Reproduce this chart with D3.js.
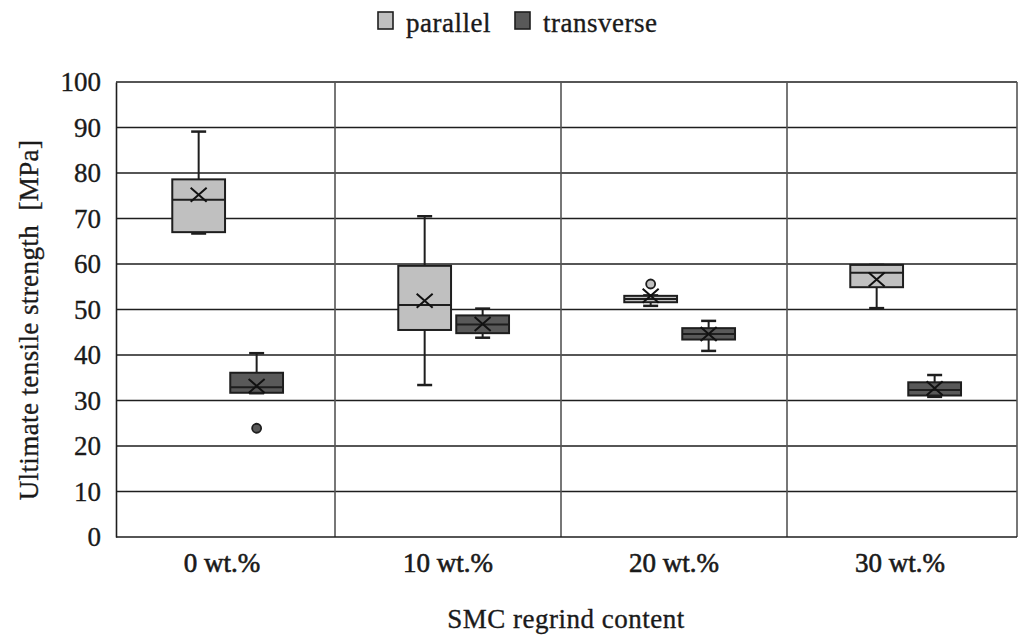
<!DOCTYPE html>
<html>
<head>
<meta charset="utf-8">
<script src="https://cdn.jsdelivr.net/npm/d3@7"></script>
<style>
  body { margin: 0; background: #fff; }
  text { font-family: "Liberation Serif", serif; fill: #1a1a1a; stroke: #1a1a1a; stroke-width: 0.35px; }
</style>
</head>
<body>
<div id="chart"></div>
<script>
// data
var categories = ["0 wt.%", "10 wt.%", "20 wt.%", "30 wt.%"];
var series = ["parallel", "transverse"];

var parLow    = [66.7, 33.4, 50.8, 50.3];
var parQ1     = [67.0, 45.5, 51.6, 54.9];
var parMedian = [74.1, 51.0, 52.3, 58.1];
var parQ3     = [78.6, 59.6, 53.0, 59.8];
var parHigh   = [89.1, 70.5, 53.1, 59.8];
var parMean   = [75.2, 51.9, 53.0, 56.6];
var parOut    = [[], [], [55.6], []];

var traLow    = [31.6, 43.8, 40.9, 30.8];
var traQ1     = [31.7, 44.8, 43.4, 31.1];
var traMedian = [32.9, 46.7, 44.6, 32.3];
var traQ3     = [36.1, 48.7, 45.9, 34.0];
var traHigh   = [40.4, 50.2, 47.5, 35.6];
var traMean   = [33.2, 46.8, 44.6, 32.7];
var traOut    = [[23.9], [], [], []];

var yTicks = [0, 10, 20, 30, 40, 50, 60, 70, 80, 90, 100];

function init() {
  var w = 1024, h = 635;
  var left = 116, right = 1017, top = 82, bottom = 537;
  var colors = { parallel: "#c0c0c0", transverse: "#595959" };
  var ink = "#1e1e1e";
  var fs = "27px";

  // build boxes from the arrays
  var boxes = [];
  categories.forEach(function(c, i) {
    boxes.push({ cat: c, s: "parallel", low: parLow[i], q1: parQ1[i], med: parMedian[i], q3: parQ3[i], high: parHigh[i], mean: parMean[i], out: parOut[i] });
    boxes.push({ cat: c, s: "transverse", low: traLow[i], q1: traQ1[i], med: traMedian[i], q3: traQ3[i], high: traHigh[i], mean: traMean[i], out: traOut[i] });
  });

  var svg = d3.select("#chart").append("svg")
    .attr("width", w)
    .attr("height", h);

  var y = d3.scaleLinear().domain([0, 100]).range([bottom, top]);
  var x = d3.scaleBand().domain(categories).range([109, 1013]);
  var xs = d3.scaleBand().domain(series)
    .range([x.bandwidth() * 0.28, x.bandwidth() * 0.77])
    .paddingInner(0.09);

  /* grid */
  svg.selectAll("line.hgrid")
    .data(yTicks.slice(1))
    .enter().append("line")
    .attr("x1", left).attr("x2", right)
    .attr("y1", function(d) { return y(d); })
    .attr("y2", function(d) { return y(d); })
    .attr("stroke", ink).attr("stroke-width", 1.6);

  svg.selectAll("line.vgrid")
    .data(categories.slice(0, 3))
    .enter().append("line")
    .attr("x1", function(d) { return x(d) + x.bandwidth(); })
    .attr("x2", function(d) { return x(d) + x.bandwidth(); })
    .attr("y1", top).attr("y2", bottom)
    .attr("stroke", "#555").attr("stroke-width", 1.6);

  svg.append("line")
    .attr("x1", right).attr("x2", right).attr("y1", top).attr("y2", bottom)
    .attr("stroke", "#555").attr("stroke-width", 1.6);

  /* axes */
  var yAxis = svg.append("g")
    .attr("transform", "translate(" + left + ",0)")
    .call(d3.axisLeft(y).tickValues(yTicks).tickSize(0).tickPadding(15));
  yAxis.select(".domain").attr("stroke", ink).attr("stroke-width", 1.6);
  yAxis.selectAll("text")
    .attr("font-family", "Liberation Serif, serif")
    .attr("font-size", fs).attr("fill", "#1a1a1a");

  var xAxis = svg.append("g")
    .attr("transform", "translate(0," + bottom + ")")
    .call(d3.axisBottom(x).tickSize(0).tickPadding(16));
  xAxis.select(".domain").remove();
  xAxis.selectAll("text")
    .attr("font-family", "Liberation Serif, serif")
    .attr("font-size", fs).attr("fill", "#1a1a1a")
    .style("stroke-width", "0.6px");
  svg.append("line")
    .attr("x1", left).attr("x2", right).attr("y1", bottom).attr("y2", bottom)
    .attr("stroke", ink).attr("stroke-width", 1.6);

  /* boxes */
  var g = svg.selectAll("g.box")
    .data(boxes)
    .enter().append("g")
    .attr("transform", function(d) { return "translate(" + (x(d.cat) + xs(d.s)) + ",0)"; });

  var bw = xs.bandwidth();
  var cx = bw / 2;
  var cap = 15;

  g.append("line")
    .attr("x1", cx).attr("x2", cx)
    .attr("y1", function(d) { return y(d.high); })
    .attr("y2", function(d) { return y(d.low); })
    .attr("stroke", ink).attr("stroke-width", 2);
  g.append("line")
    .attr("x1", cx - cap / 2).attr("x2", cx + cap / 2)
    .attr("y1", function(d) { return y(d.high); })
    .attr("y2", function(d) { return y(d.high); })
    .attr("stroke", ink).attr("stroke-width", 2.5);
  g.append("line")
    .attr("x1", cx - cap / 2).attr("x2", cx + cap / 2)
    .attr("y1", function(d) { return y(d.low); })
    .attr("y2", function(d) { return y(d.low); })
    .attr("stroke", ink).attr("stroke-width", 2.5);

  g.append("rect")
    .attr("x", 0).attr("width", bw)
    .attr("y", function(d) { return y(d.q3); })
    .attr("height", function(d) { return y(d.q1) - y(d.q3); })
    .attr("fill", function(d) { return colors[d.s]; })
    .attr("stroke", ink).attr("stroke-width", 2);

  g.append("line")
    .attr("x1", 0).attr("x2", bw)
    .attr("y1", function(d) { return y(d.med); })
    .attr("y2", function(d) { return y(d.med); })
    .attr("stroke", ink).attr("stroke-width", 2);

  // mean marker (x)
  var mk = 8, mv = 7;
  g.append("path")
    .attr("d", function(d) {
      var m = y(d.mean);
      return "M" + (cx - mk) + "," + (m - mv) + "L" + (cx + mk) + "," + (m + mv) +
             "M" + (cx - mk) + "," + (m + mv) + "L" + (cx + mk) + "," + (m - mv);
    })
    .attr("stroke", "#111").attr("stroke-width", 2).attr("fill", "none");

  g.selectAll("circle")
    .data(function(d) { return d.out.map(function(v) { return { v: v, s: d.s }; }); })
    .enter().append("circle")
    .attr("cx", cx)
    .attr("cy", function(d) { return y(d.v); })
    .attr("r", 4.5)
    .attr("fill", function(d) { return colors[d.s]; })
    .attr("stroke", ink).attr("stroke-width", 1.8);

  /* titles */
  svg.append("text")
    .attr("x", 566).attr("y", 628)
    .attr("text-anchor", "middle")
    .attr("font-size", fs).attr("letter-spacing", "0.5px")
    .text("SMC regrind content");

  svg.append("text")
    .attr("transform", "translate(38,320) rotate(-90)")
    .attr("text-anchor", "middle")
    .attr("font-size", fs).attr("letter-spacing", "0.4px")
    .attr("xml:space", "preserve")
    .text("Ultimate tensile strength  [MPa]");

  /* legend */
  var legX = [378, 515];
  var leg = svg.selectAll("g.leg")
    .data(series)
    .enter().append("g")
    .attr("transform", function(d, i) { return "translate(" + legX[i] + ",12)"; });
  leg.append("rect")
    .attr("width", 15).attr("height", 17)
    .attr("fill", function(d) { return colors[d]; })
    .attr("stroke", ink).attr("stroke-width", 1.6);
  leg.append("text")
    .attr("x", 28).attr("y", 20)
    .attr("font-size", fs).attr("letter-spacing", "0.5px")
    .text(function(d) { return d; });
}
window.onload = init;
</script>
</body>
</html>
